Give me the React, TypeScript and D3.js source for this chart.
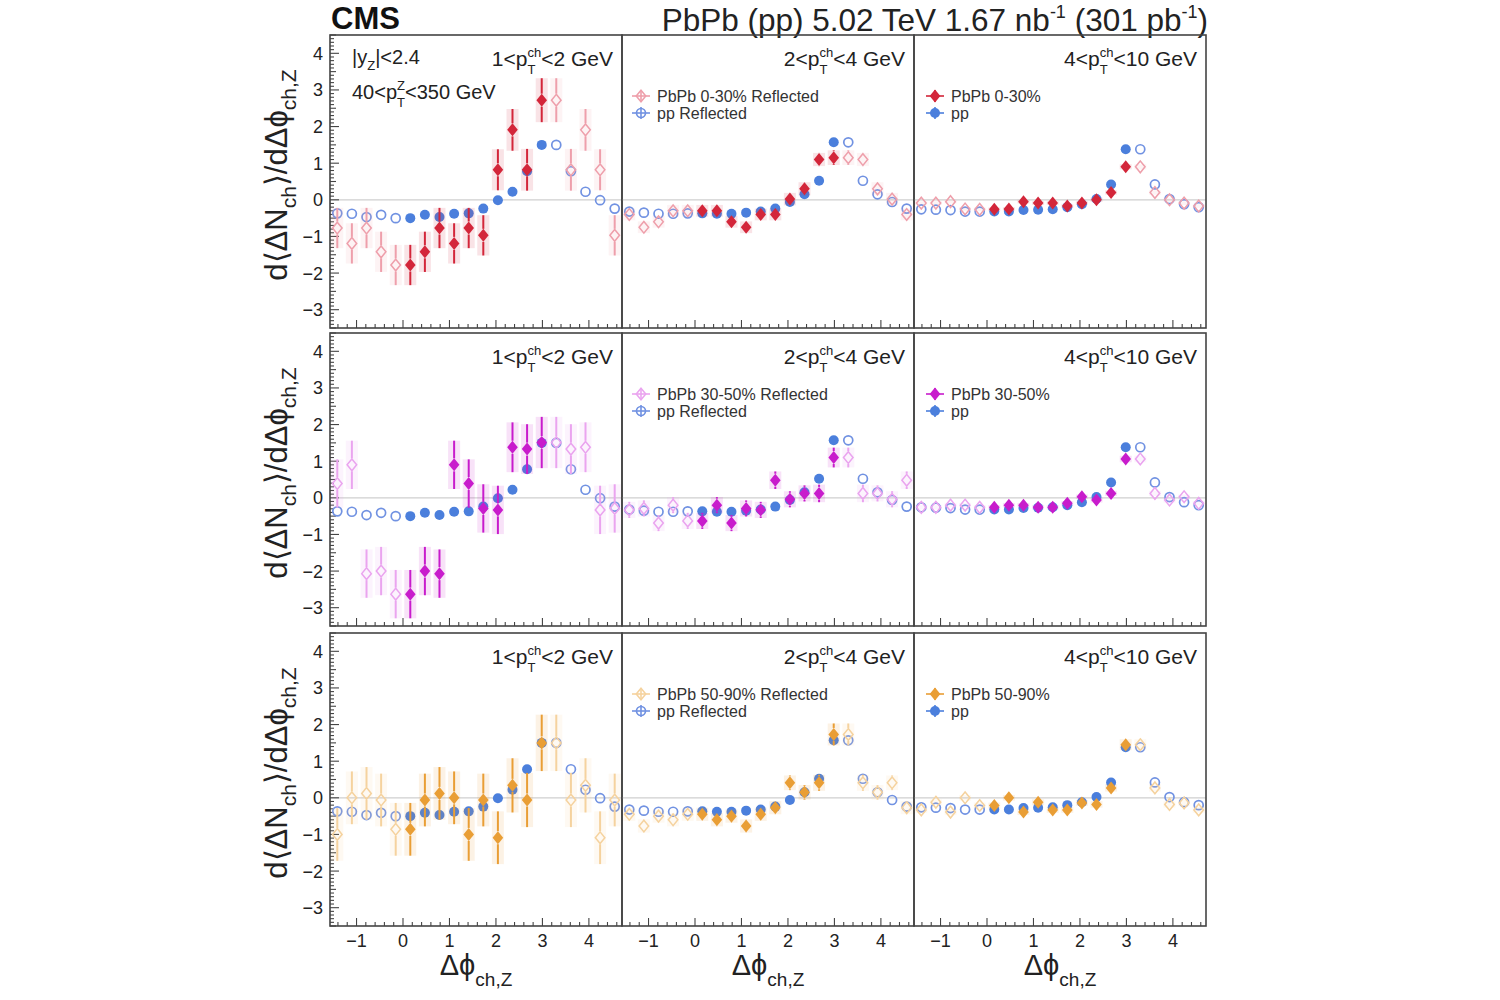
import React from "react";
import * as d3 from "d3";

const PI = Math.PI;

// bin centres of the measured range 0..pi (10 bins)
const binCenters = [0.157, 0.471, 0.785, 1.1, 1.414, 1.728, 2.042, 2.356, 2.67, 2.985];

const xTicks = [-1, 0, 1, 2, 3, 4];
const yTicks = [-3, -2, -1, 0, 1, 2, 3, 4];

const ptBins = [
  ["1", "2"],
  ["2", "4"],
  ["4", "10"],
];
const centralities = ["0-30%", "30-50%", "50-90%"];

// pp reference (same in every row)
const ppLow = [-0.5, -0.41, -0.47, -0.38, -0.37, -0.24, -0.01, 0.22, 0.78, 1.5];
const ppMid = [-0.37, -0.38, -0.38, -0.35, -0.32, -0.24, -0.06, 0.15, 0.52, 1.57];
const ppHigh = [-0.32, -0.32, -0.28, -0.27, -0.26, -0.2, -0.12, 0.02, 0.42, 1.38];
const ppErr = [0.03, 0.03, 0.03, 0.03, 0.03, 0.03, 0.03, 0.03, 0.03, 0.04];

// PbPb 0-30%
const pb030Low = [-1.78, -1.42, -0.77, -1.19, -0.77, -0.97, 0.82, 1.91, 0.82, 2.72];
const pb030Mid = [-0.3, -0.3, -0.6, -0.75, -0.4, -0.4, 0.02, 0.3, 1.1, 1.15];
const pb030High = [-0.26, -0.25, -0.05, -0.09, -0.09, -0.17, -0.09, 0.0, 0.2, 0.9];
const err030Low = [0.55, 0.55, 0.55, 0.55, 0.55, 0.55, 0.56, 0.57, 0.57, 0.6];
const err030Mid = [0.16, 0.16, 0.16, 0.16, 0.16, 0.16, 0.17, 0.18, 0.18, 0.2];
const err030High = [0.05, 0.05, 0.05, 0.05, 0.05, 0.05, 0.05, 0.06, 0.06, 0.07];

// PbPb 30-50%
const pb3050Low = [-2.63, -2.0, -2.07, 0.9, 0.39, -0.29, -0.33, 1.38, 1.33, 1.51];
const pb3050Mid = [-0.63, -0.2, -0.69, -0.29, -0.33, 0.48, -0.04, 0.12, 0.12, 1.1];
const pb3050High = [-0.26, -0.2, -0.2, -0.26, -0.26, -0.15, 0.03, -0.06, 0.12, 1.06];
const err3050Low = [0.66, 0.66, 0.66, 0.66, 0.66, 0.66, 0.66, 0.68, 0.68, 0.7];
const err3050Mid = [0.22, 0.22, 0.22, 0.22, 0.22, 0.24, 0.22, 0.22, 0.24, 0.27];
const err3050High = [0.06, 0.06, 0.06, 0.06, 0.06, 0.06, 0.06, 0.07, 0.07, 0.09];

// PbPb 50-90%
const pb5090Low = [-0.86, -0.06, 0.12, 0.0, -1.0, -0.06, -1.09, 0.34, -0.06, 1.5];
const pb5090Mid = [-0.45, -0.6, -0.5, -0.77, -0.45, -0.27, 0.41, 0.15, 0.41, 1.73];
const pb5090High = [-0.21, 0.0, -0.39, -0.12, -0.33, -0.33, -0.14, -0.18, 0.27, 1.45];
const err5090Low = [0.72, 0.72, 0.72, 0.72, 0.72, 0.72, 0.72, 0.74, 0.74, 0.77];
const err5090Mid = [0.18, 0.18, 0.18, 0.18, 0.18, 0.18, 0.2, 0.2, 0.22, 0.3];
const err5090High = [0.08, 0.08, 0.08, 0.08, 0.08, 0.08, 0.08, 0.09, 0.1, 0.15];

const ppValues = [ppLow, ppMid, ppHigh];
const pbValues = [
  [pb030Low, pb030Mid, pb030High],
  [pb3050Low, pb3050Mid, pb3050High],
  [pb5090Low, pb5090Mid, pb5090High],
];
const pbErrors = [
  [err030Low, err030Mid, err030High],
  [err3050Low, err3050Mid, err3050High],
  [err5090Low, err5090Mid, err5090High],
];

const pbColors = ["#d3263a", "#c81ccc", "#e99e35"];
const pbReflColors = ["#ee9fab", "#eaa4ef", "#f5d29e"];
const ppColor = "#4b7fdc";
const ppReflColor = "#7192e2";

const FONT = "'Liberation Sans', Arial, Helvetica, sans-serif";

const colX = [330, 622, 914];
const rowY = [35, 333, 633];
const PW = 292;
const PH = 293;

const xs = d3.scaleLinear().domain([-PI / 2, (3 * PI) / 2]).range([0, PW]);
const ys = d3.scaleLinear().domain([-3.5, 4.5]).range([PH, 0]);

const reflect = (v: number) => (v < PI / 2 ? -v : 2 * PI - v);

const diamondPath = "M0,-6.5 L5.3,0 L0,6.5 L-5.3,0 Z";

function ErrBar({ cx, v, e, color, gap, width }: any) {
  const yTop = ys(v + e);
  const yBot = ys(v - e);
  const yc = ys(v);
  const segs: any[] = [];
  if (yc - gap > yTop) segs.push([yTop, yc - gap]);
  if (yc + gap < yBot) segs.push([yc + gap, yBot]);
  return (
    <g>
      {segs.map((s, i) => (
        <line key={i} x1={cx} x2={cx} y1={s[0]} y2={s[1]} stroke={color} strokeWidth={width} />
      ))}
    </g>
  );
}

function Marker({ kind, cx, cy, color }: any) {
  if (kind === "fdiamond")
    return <path d={diamondPath} transform={`translate(${cx},${cy})`} fill={color} />;
  if (kind === "odiamond")
    return (
      <path
        d={diamondPath}
        transform={`translate(${cx},${cy}) scale(0.9)`}
        fill="none"
        stroke={color}
        strokeWidth={1.7}
      />
    );
  if (kind === "fcircle") return <circle cx={cx} cy={cy} r={5} fill={color} />;
  return <circle cx={cx} cy={cy} r={4.5} fill="none" stroke={color} strokeWidth={1.7} />;
}

function Series({ values, errors, kind, color, reflected, sysBox }: any) {
  return (
    <g>
      {values.map((v: number, i: number) => {
        const xv = reflected ? reflect(binCenters[i]) : binCenters[i];
        const cx = xs(xv);
        const cy = ys(v);
        const e = errors[i];
        return (
          <g key={i}>
            {sysBox && (
              <rect
                x={cx - 6}
                y={ys(v + e)}
                width={12}
                height={ys(v - e) - ys(v + e)}
                fill={color}
                opacity={0.13}
              />
            )}
            <ErrBar cx={cx} v={v} e={e} color={color} gap={kind.endsWith("diamond") ? 6.5 : 5} width={2} />
            <Marker kind={kind} cx={cx} cy={cy} color={color} />
          </g>
        );
      })}
    </g>
  );
}

function PtLabel({ x, y, lo, hi }: any) {
  return (
    <text x={x} y={y} textAnchor="end" fontSize={21} fontFamily={FONT} fill="#222">
      {lo}&lt;p
      <tspan fontSize={13} dy={-9}>ch</tspan>
      <tspan fontSize={13} dx={-13.7} dy={17}>T</tspan>
      <tspan dx={5.8} dy={-8}>&lt;{hi} GeV</tspan>
    </text>
  );
}

function LegendEntry({ x, y, kind, color, label }: any) {
  return (
    <g>
      <line x1={x - 9} x2={x + 9} y1={y} y2={y} stroke={color} strokeWidth={1.6} />
      <line x1={x} x2={x} y1={y - 6} y2={y + 6} stroke={color} strokeWidth={1.6} />
      <Marker kind={kind} cx={x} cy={y} color={color} />
      <text x={x + 16} y={y + 5.5} fontSize={16} fontFamily={FONT} fill="#333">
        {label}
      </text>
    </g>
  );
}

function Panel({ r, c }: any) {
  const x0 = colX[c];
  const y0 = rowY[r];
  const pp = ppValues[c];
  const pb = pbValues[r][c];
  const pbe = pbErrors[r][c];
  const xMinor = d3.range(-7, 24).map((k) => k * 0.2).filter((t) => t > -PI / 2 && t < (3 * PI) / 2);
  const yMinor = d3.range(-35, 46).map((k) => k / 10);
  return (
    <g transform={`translate(${x0},${y0})`}>
      <line x1={0} x2={PW} y1={ys(0)} y2={ys(0)} stroke="#cfcfcf" strokeWidth={1.3} />
      {xMinor.map((t, i) => {
        const isMajor = Math.abs(t - Math.round(t)) < 1e-6;
        return (
          <line key={"xm" + i} x1={xs(t)} x2={xs(t)} y1={PH} y2={PH - (isMajor ? 8 : 4)} stroke="#444" strokeWidth={1.1} />
        );
      })}
      {c === 0 &&
        yMinor.map((t, i) => {
          const isMajor = Math.abs(t - Math.round(t)) < 1e-6;
          const isHalf = Math.abs(t * 2 - Math.round(t * 2)) < 1e-6;
          return (
            <line
              key={"ym" + i}
              x1={0}
              x2={isMajor ? 9 : isHalf ? 6 : 4}
              y1={ys(t)}
              y2={ys(t)}
              stroke="#444"
              strokeWidth={1.1}
            />
          );
        })}
      <Series values={pp} errors={ppErr} kind="ocircle" color={ppReflColor} reflected />
      <Series values={pb} errors={pbe} kind="odiamond" color={pbReflColors[r]} reflected sysBox />
      <Series values={pp} errors={ppErr} kind="fcircle" color={ppColor} />
      <Series values={pb} errors={pbe} kind="fdiamond" color={pbColors[r]} sysBox />
      <rect x={0} y={0} width={PW} height={PH} fill="none" stroke="#444" strokeWidth={1.6} />
      <PtLabel x={PW - 9} y={31} lo={ptBins[c][0]} hi={ptBins[c][1]} />
      {c === 1 && (
        <g>
          <LegendEntry x={19} y={61} kind="odiamond" color={pbReflColors[r]} label={`PbPb ${centralities[r]} Reflected`} />
          <LegendEntry x={19} y={78} kind="ocircle" color={ppReflColor} label="pp Reflected" />
        </g>
      )}
      {c === 2 && (
        <g>
          <LegendEntry x={21} y={61} kind="fdiamond" color={pbColors[r]} label={`PbPb ${centralities[r]}`} />
          <LegendEntry x={21} y={78} kind="fcircle" color={ppColor} label="pp" />
        </g>
      )}
      {r === 0 && c === 0 && (
        <g fontFamily={FONT} fill="#222" fontSize={20}>
          <text x={22} y={29}>
            |y<tspan fontSize={13} dy={6}>Z</tspan>
            <tspan dy={-6}>|&lt;2.4</tspan>
          </text>
          <text x={22} y={64}>
            40&lt;p
            <tspan fontSize={13} dy={-9}>Z</tspan>
            <tspan fontSize={13} dx={-7.9} dy={17}>T</tspan>
            <tspan dx={0} dy={-8}>&lt;350 GeV</tspan>
          </text>
        </g>
      )}
    </g>
  );
}

export default function App() {
  const rows = [0, 1, 2];
  const cols = [0, 1, 2];
  return (
    <svg
      width={1500}
      height={1000}
      viewBox="0 0 1500 1000"
      style={{ position: "absolute", left: 0, top: 0, background: "#fff" }}
      fontFamily={FONT}
    >
      <rect x={0} y={0} width={1500} height={1000} fill="#fff" />
      <text x={331} y={29} fontSize={31} fontWeight="bold" fill="#111">
        CMS
      </text>
      <text x={1208} y={31} fontSize={31.5} textAnchor="end" fill="#222">
        PbPb (pp) 5.02 TeV 1.67 nb<tspan fontSize={18} dy={-13}>-1</tspan>
        <tspan dy={13}> (301 pb</tspan>
        <tspan fontSize={18} dy={-13}>-1</tspan>
        <tspan dy={13}>)</tspan>
      </text>
      {rows.map((r) => cols.map((c) => <Panel key={`${r}-${c}`} r={r} c={c} />))}
      {rows.map((r) => (
        <g key={"ya" + r}>
          {yTicks.map((t) => (
            <text key={t} x={323} y={rowY[r] + ys(t) + 6.5} textAnchor="end" fontSize={18} fill="#222">
              {t < 0 ? `\u2212${-t}` : `${t}`}
            </text>
          ))}
          <text
            transform={`translate(287,${rowY[r] + 140}) rotate(-90)`}
            textAnchor="middle"
            fontSize={31}
            fill="#222"
          >
            d⟨ΔN<tspan fontSize={21} dy={9}>ch</tspan>
            <tspan dy={-9}>⟩/dΔϕ</tspan>
            <tspan fontSize={21} dy={9}>ch,Z</tspan>
          </text>
        </g>
      ))}
      {cols.map((c) => (
        <g key={"xa" + c}>
          {xTicks.map((t) => (
            <text key={t} x={colX[c] + xs(t)} y={947} textAnchor="middle" fontSize={18} fill="#222">
              {t < 0 ? `\u2212${-t}` : `${t}`}
            </text>
          ))}
          <text x={colX[c] + PW / 2} y={975} textAnchor="middle" fontSize={29} fill="#222">
            Δϕ<tspan fontSize={19} dy={11}>ch,Z</tspan>
          </text>
        </g>
      ))}
    </svg>
  );
}
